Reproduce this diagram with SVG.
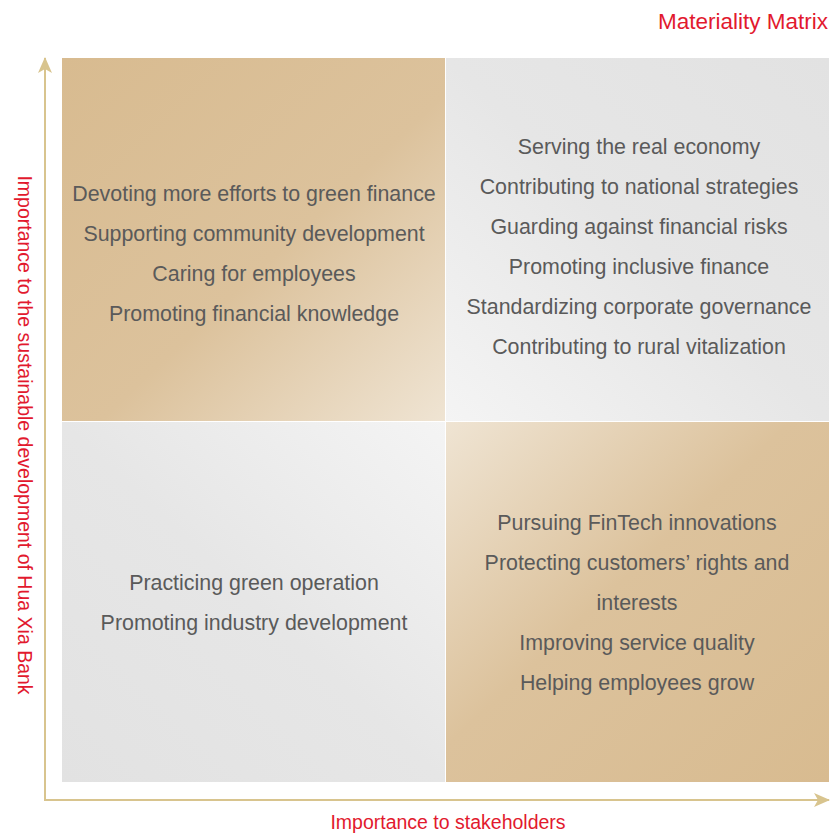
<svg xmlns="http://www.w3.org/2000/svg" width="830" height="833" viewBox="0 0 830 833">
<defs>
<linearGradient id="tanTL" x1="0" y1="0" x2="1" y2="1"><stop offset="0" stop-color="#d8bb90"/><stop offset="0.55" stop-color="#dcc29c"/><stop offset="1" stop-color="#efe4d3"/></linearGradient>
<linearGradient id="tanBR" x1="0" y1="0" x2="1" y2="1"><stop offset="0" stop-color="#efe4d3"/><stop offset="0.45" stop-color="#dcc29c"/><stop offset="1" stop-color="#d8bb90"/></linearGradient>
<linearGradient id="grayTR" x1="1" y1="0" x2="0" y2="1"><stop offset="0" stop-color="#e2e2e2"/><stop offset="0.5" stop-color="#e6e6e6"/><stop offset="1" stop-color="#f4f4f4"/></linearGradient>
<linearGradient id="grayBL" x1="0" y1="1" x2="1" y2="0"><stop offset="0" stop-color="#e2e2e2"/><stop offset="0.5" stop-color="#e6e6e6"/><stop offset="1" stop-color="#f4f4f4"/></linearGradient>
<marker id="arr" viewBox="0 0 16 14" refX="15" refY="7" markerWidth="16" markerHeight="14" markerUnits="userSpaceOnUse" orient="auto"><path d="M0,0 L16,7 L0,14 L4,7 Z" fill="#d8c48e"/></marker>
<style>
.item{font-family:"Liberation Sans",Arial,sans-serif;font-size:21.4px;fill:#5a5a5a;text-anchor:middle}
.red{font-family:"Liberation Sans",Arial,sans-serif;font-size:19.5px;fill:#e2192e}
.axis{stroke:#d8c48e;stroke-width:2;fill:none}
</style>
</defs>
<g id="q-tl"><rect x="62" y="58" width="383" height="363" fill="url(#tanTL)"/>
<text class="item" x="254" y="201">Devoting more efforts to green finance</text>
<text class="item" x="254" y="241">Supporting community development</text>
<text class="item" x="254" y="281">Caring for employees</text>
<text class="item" x="254" y="321">Promoting financial knowledge</text></g>
<g id="q-tr"><rect x="446" y="58" width="383" height="363" fill="url(#grayTR)"/>
<text class="item" x="639" y="154">Serving the real economy</text>
<text class="item" x="639" y="194">Contributing to national strategies</text>
<text class="item" x="639" y="234">Guarding against financial risks</text>
<text class="item" x="639" y="274">Promoting inclusive finance</text>
<text class="item" x="639" y="314">Standardizing corporate governance</text>
<text class="item" x="639" y="354">Contributing to rural vitalization</text></g>
<g id="q-bl"><rect x="62" y="422" width="383" height="360" fill="url(#grayBL)"/>
<text class="item" x="254" y="590">Practicing green operation</text>
<text class="item" x="254" y="630">Promoting industry development</text></g>
<g id="q-br"><rect x="446" y="422" width="383" height="360" fill="url(#tanBR)"/>
<text class="item" x="637" y="530">Pursuing FinTech innovations</text>
<text class="item" x="637" y="570">Protecting customers’ rights and</text>
<text class="item" x="637" y="610">interests</text>
<text class="item" x="637" y="650">Improving service quality</text>
<text class="item" x="637" y="690">Helping employees grow</text></g>
<g id="connectors">
<path class="axis" d="M45,800 L45,58" marker-end="url(#arr)"/>
<path class="axis" d="M44,800 L829,800" marker-end="url(#arr)"/>
</g>
<g id="labels">
<text class="red" x="828" y="29" text-anchor="end" style="font-size:22.5px">Materiality Matrix</text>
<text class="red" x="448" y="829" text-anchor="middle">Importance to stakeholders</text>
<text class="red" transform="translate(18,435) rotate(90)" text-anchor="middle">Importance to the sustainable development of Hua Xia Bank</text>
</g>
</svg>
